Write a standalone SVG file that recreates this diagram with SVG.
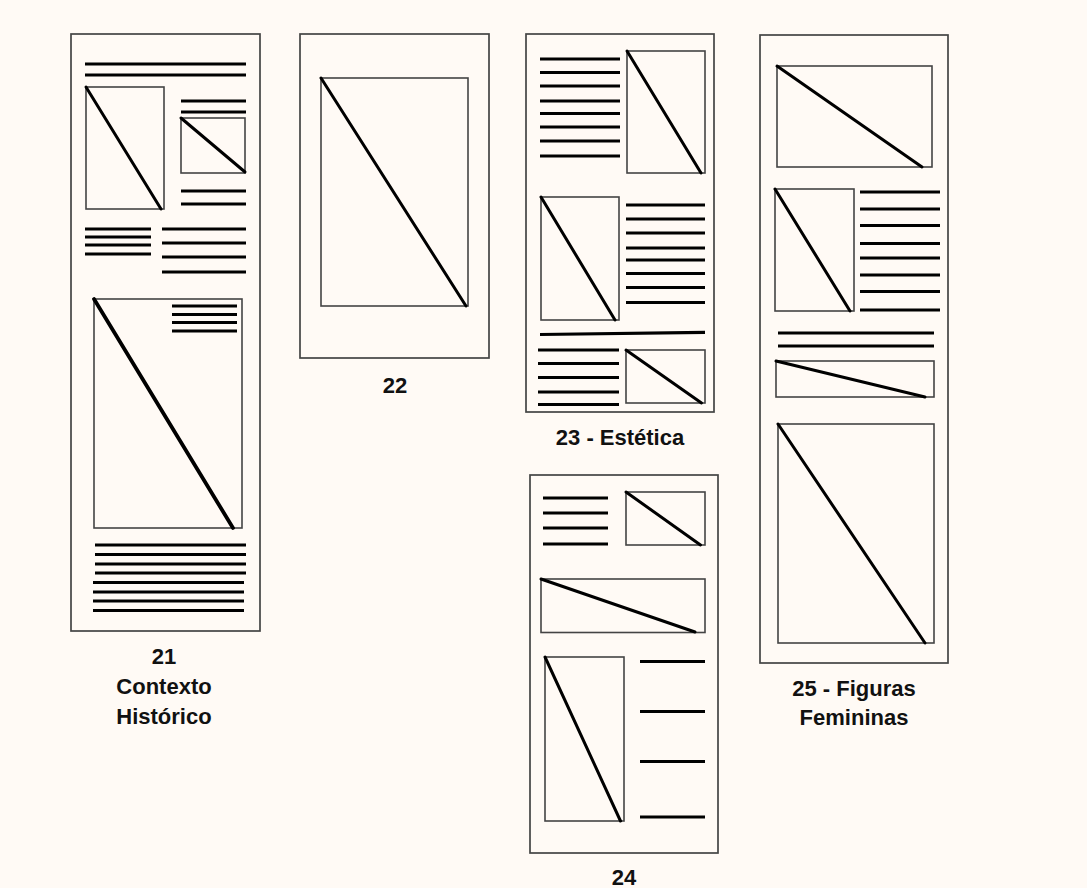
<svg xmlns="http://www.w3.org/2000/svg" width="1087" height="888" viewBox="0 0 1087 888">
<style>
.page{fill:none;stroke:#444;stroke-width:1.7}
.img{fill:none;stroke:#444;stroke-width:1.6}
.diag{stroke:#000;stroke-width:3;stroke-linecap:round}
.thick{stroke-width:3.8}
.ln{stroke:#000;stroke-width:3.2}
.lbl{font-family:"Liberation Sans",Arial,sans-serif;font-weight:bold;font-size:22px;fill:#111;text-anchor:middle}
</style>
<rect width="1087" height="888" fill="#fffaf5"/>

<g id="page21">
<rect class="page" x="71" y="34" width="189" height="597"/>
<path class="ln" d="M85 64H246M85 75H246"/>
<rect class="img" x="86" y="87" width="78" height="122"/>
<line class="diag" x1="86" y1="87" x2="161" y2="209"/>
<path class="ln" d="M181 101H246M181 112H246"/>
<rect class="img" x="181" y="118" width="64" height="55"/>
<line class="diag" x1="181" y1="118" x2="245" y2="172"/>
<path class="ln" d="M181 191H246M181 204H246"/>
<path class="ln" d="M85 229H151M85 237H151M85 245H151M85 254H151"/>
<path class="ln" d="M162 229H246M162 243H246M162 257H246M162 272H246"/>
<rect class="img" x="94" y="299" width="148" height="229"/>
<line class="diag thick" x1="94" y1="299" x2="233" y2="528"/>
<path class="ln" d="M172 306H237M172 314.5H237M172 322.5H237M172 331H237"/>
<path class="ln" d="M95 545H246M95 554.5H246M95 564H246M95 573H246M93 582.5H244M93 592H244M93 601H244M93 610.5H244"/>
</g>

<g id="page22">
<rect class="page" x="300" y="34" width="189" height="324"/>
<rect class="img" x="321" y="78" width="147" height="228"/>
<line class="diag" x1="321" y1="78" x2="466" y2="306"/>
</g>

<g id="page23">
<rect class="page" x="526" y="34" width="188" height="378"/>
<path class="ln" d="M540 59H620M540 72.5H620M540 86H620M540 101H620M540 113.5H620M540 127H620M540 141H620M540 156H620"/>
<rect class="img" x="627" y="51" width="78" height="122"/>
<line class="diag" x1="627" y1="51" x2="701" y2="173"/>
<rect class="img" x="541" y="197" width="78" height="123"/>
<line class="diag" x1="541" y1="197" x2="615" y2="320"/>
<path class="ln" d="M626 205H705M626 219H705M626 233H705M626 248H705M626 260H705M626 273.5H705M626 287.5H705M626 302.5H705"/>
<path class="ln" d="M540 334.5L705 332.3"/>
<path class="ln" d="M538 350H619M538 363.5H619M538 377.5H619M538 392H619M538 404.5H619"/>
<rect class="img" x="626" y="350" width="79" height="53"/>
<line class="diag" x1="626" y1="350" x2="701.5" y2="403"/>
</g>

<g id="page24">
<rect class="page" x="530" y="475" width="188" height="378"/>
<path class="ln" d="M543 498H608M543 513H608M543 528H608M543 544H608"/>
<rect class="img" x="626" y="492" width="79" height="53"/>
<line class="diag" x1="626" y1="492" x2="700.5" y2="545"/>
<rect class="img" x="541" y="579" width="164" height="53.5"/>
<line class="diag" x1="541" y1="579" x2="695" y2="632"/>
<rect class="img" x="545" y="657" width="79" height="164"/>
<line class="diag" x1="545" y1="657" x2="620.5" y2="821"/>
<path class="ln" d="M640 661.5H705M640 711.5H705M640 761.5H705M640 817H705"/>
</g>

<g id="page25">
<rect class="page" x="760" y="35" width="188" height="628"/>
<rect class="img" x="777" y="66" width="155" height="101"/>
<line class="diag" x1="777" y1="66" x2="922" y2="167"/>
<rect class="img" x="775" y="189" width="79" height="122"/>
<line class="diag" x1="775" y1="189" x2="850" y2="311"/>
<path class="ln" d="M860 192H940M860 209H940M860 225.5H940M860 243.5H940M860 258H940M860 275H940M860 291.5H940M860 310H940"/>
<path class="ln" d="M778 333H934M778 346H934"/>
<rect class="img" x="776" y="361" width="158" height="36"/>
<line class="diag" x1="776" y1="361" x2="925" y2="397"/>
<rect class="img" x="778" y="424" width="156" height="219"/>
<line class="diag" x1="778" y1="424" x2="925" y2="643"/>
</g>

<g id="labels">
<text class="lbl" x="164" y="664">21</text>
<text class="lbl" x="164" y="694">Contexto</text>
<text class="lbl" x="164" y="724">Histórico</text>
<text class="lbl" x="395" y="393">22</text>
<text class="lbl" x="620" y="445">23 - Estética</text>
<text class="lbl" x="624" y="885">24</text>
<text class="lbl" x="854" y="696">25 - Figuras</text>
<text class="lbl" x="854" y="725">Femininas</text>
</g>
</svg>
